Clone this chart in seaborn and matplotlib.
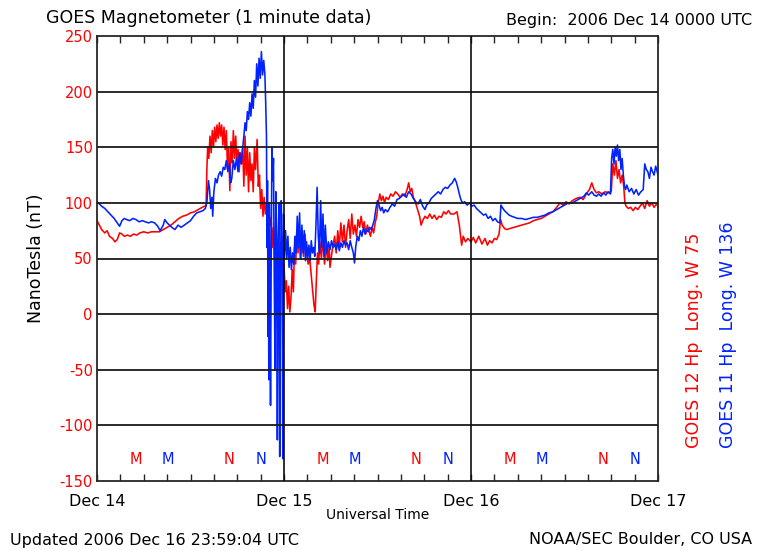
import numpy as np
import pandas as pd
import matplotlib
matplotlib.use("Agg")
import matplotlib.pyplot as plt
import seaborn as sns

# GOES 12 (red) - hours since 2006 Dec 14 00 UT, nT
red_hours = [0.0, 0.3, 0.6, 1.0, 1.3, 1.6, 2.0, 2.3, 2.6, 2.9, 3.2, 3.5, 3.9, 4.3, 4.7, 5.1, 5.5, 6.0,
             6.5, 7.0, 7.5, 8.0, 8.5, 9.0, 9.5, 10.0, 10.5, 11.0, 11.5, 12.0, 12.5, 13.0, 13.5, 13.8,
             14.0, 14.1, 14.2, 14.35, 14.5, 14.65, 14.8, 14.95, 15.1, 15.25, 15.4, 15.55, 15.7, 15.85,
             16.0, 16.15, 16.3, 16.45, 16.6, 16.75, 16.9, 17.05, 17.2, 17.35, 17.5, 17.65, 17.8, 17.95,
             18.1, 18.25, 18.4, 18.55, 18.7, 18.85, 19.0, 19.15, 19.3, 19.45, 19.6, 19.75, 19.9, 20.05,
             20.2, 20.35, 20.55, 20.7, 20.85, 21.0, 21.15, 21.3, 21.45, 21.6, 21.75, 21.9, 22.05, 22.2,
             22.35, 22.5, 22.65, 22.8, 22.95, 23.1, 23.25, 23.4, 23.55, 23.7, 23.85, 24.0, 24.15, 24.3,
             24.45, 24.6, 24.75, 24.9, 25.05, 25.2, 25.35, 25.5, 25.65, 25.8, 25.95, 26.1, 26.3, 26.5,
             26.7, 26.9, 27.1, 27.3, 27.5, 27.7, 27.85, 28.0, 28.15, 28.3, 28.45, 28.6, 28.8, 29.0,
             29.2, 29.4, 29.6, 29.8, 29.9, 30.2, 30.5, 30.7, 30.9, 31.1, 31.3, 31.5, 31.7, 31.9, 32.1,
             32.3, 32.5, 32.7, 32.9, 33.1, 33.3, 33.5, 33.7, 33.9, 34.1, 34.3, 34.5, 34.7, 34.9, 35.1,
             35.3, 35.5, 35.7, 35.9, 36.1, 36.3, 36.5, 36.7, 36.9, 37.1, 37.4, 37.7, 38.0, 38.3, 38.6,
             38.9, 39.2, 39.5, 39.8, 40.0, 40.2, 40.4, 40.6, 40.8, 41.1, 41.4, 41.6, 41.8, 42.1, 42.4,
             42.7, 43.0, 43.3, 43.6, 43.9, 44.2, 44.5, 44.8, 45.1, 45.4, 45.8, 46.2, 46.5, 46.8, 47.0,
             47.3, 47.6, 48.0, 48.3, 48.6, 49.0, 49.4, 49.8, 50.1, 50.4, 50.7, 51.0, 51.3, 51.6, 51.8,
             52.0, 52.3, 52.6, 53.0, 53.5, 54.0, 54.5, 55.0, 55.5, 56.0, 56.5, 57.0, 57.5, 58.0, 58.5,
             59.0, 59.4, 59.8, 60.2, 60.6, 61.0, 61.5, 62.0, 62.4, 62.8, 63.2, 63.5, 63.8, 64.1, 64.4,
             64.8, 65.2, 65.6, 66.0, 66.2, 66.4, 66.6, 66.8, 67.0, 67.2, 67.4, 67.6, 67.75, 67.9, 68.2,
             68.5, 68.8, 69.1, 69.4, 69.7, 70.0, 70.3, 70.6, 70.9, 71.2, 71.5, 71.8, 72.0]
red_nt = [84, 80, 76, 73, 75, 70, 68, 65, 67, 73, 72, 70, 71, 70, 72, 71, 73, 74,
          73, 74, 74, 74, 76, 78, 80, 83, 86, 88, 89, 91, 92, 94, 96, 97,
          97, 130, 150, 140, 160, 145, 165, 150, 168, 155, 170, 158, 172, 160,
          170, 152, 168, 148, 165, 130, 150, 111, 155, 136, 165, 140, 160, 135,
          148, 128, 145, 135, 150, 115, 160, 125, 150, 110, 145, 120, 135, 110,
          150, 130, 157, 115, 125, 95, 112, 88, 105, 90, 100, 78, 95, 80,
          87, 60, 78, 50, 70, 55, 68, 48, 65, 52, 35, 45, 20, 30,
          5, 25, 2, 15, 40, 20, 60, 45, 75, 55, 78, 50, 70, 52,
          72, 55, 45, 50, 35, 20, 8, 2, 30, 55, 45, 65, 50, 68,
          45, 62, 48, 60, 42, 58, 70, 55, 75, 60, 82, 65, 80, 60, 75,
          85, 68, 90, 72, 80, 70, 85, 78, 88, 78, 83, 72, 80, 75, 70,
          78, 73, 82, 88, 100, 108, 102, 106, 100, 105, 103, 108, 106, 110, 108,
          105, 108, 106, 112, 118, 110, 113, 105, 102, 95, 88, 80, 84, 88, 86,
          90, 86, 89, 85, 88, 87, 92, 90, 93, 90, 90, 92, 80, 62, 70,
          65, 68, 65, 69, 64, 70, 63, 68, 62, 66, 64, 68, 67, 72, 85,
          80, 77, 76, 77, 78, 79, 80, 81, 82, 84, 85, 86, 88, 90, 92,
          96, 100, 98, 101, 99, 102, 104, 105, 103, 108, 112, 118, 112, 109, 110,
          108, 110, 109, 110, 135, 125, 138, 122, 130, 118, 125, 115, 100, 97, 95,
          96, 93, 96, 94, 97, 100, 95, 102, 97, 100, 96, 99, 97]

# GOES 11 (blue)
blue_hours = [0.0, 0.3, 0.6, 1.0, 1.4, 1.8, 2.2, 2.6, 2.9, 3.2, 3.5, 3.8, 4.2, 4.6, 5.0, 5.4, 5.8, 6.2,
              6.6, 7.0, 7.4, 7.8, 8.1, 8.5, 8.7, 9.0, 9.3, 9.6, 10.0, 10.4, 10.8, 11.2, 11.6, 12.0,
              12.4, 12.8, 13.2, 13.6, 13.9, 14.1, 14.3, 14.45, 14.6, 14.75, 14.85, 15.0, 15.2, 15.4,
              15.6, 15.8, 16.0, 16.2, 16.4, 16.6, 16.8, 17.0, 17.15, 17.3, 17.5, 17.7, 17.9, 18.1,
              18.3, 18.5, 18.7, 18.85, 19.0, 19.15, 19.3, 19.45, 19.6, 19.75, 19.9, 20.05, 20.2, 20.35,
              20.5, 20.65, 20.8, 20.95, 21.1, 21.25, 21.4, 21.55, 21.65, 21.75, 21.82, 21.88, 21.95,
              22.0, 22.05, 22.12, 22.2, 22.27, 22.35, 22.45, 22.55, 22.65, 22.75, 22.85, 22.95, 23.05,
              23.15, 23.25, 23.35, 23.45, 23.55, 23.65, 23.75, 23.85, 23.95, 24.05, 24.2, 24.35, 24.5,
              24.65, 24.8, 24.95, 25.1, 25.25, 25.4, 25.55, 25.7, 25.85, 26.0, 26.15, 26.3, 26.45,
              26.6, 26.75, 26.9, 27.05, 27.2, 27.35, 27.5, 27.65, 27.8, 27.95, 28.1, 28.25, 28.4,
              28.55, 28.7, 28.85, 29.0, 29.15, 29.3, 29.5, 29.7, 29.9, 30.1, 30.3, 30.5, 30.7, 30.9,
              31.1, 31.3, 31.5, 31.7, 31.9, 32.1, 32.3, 32.5, 32.7, 32.9, 33.05, 33.2, 33.4, 33.6,
              33.8, 34.0, 34.2, 34.4, 34.6, 34.8, 35.0, 35.2, 35.4, 35.6, 35.8, 36.0, 36.2, 36.4,
              36.6, 36.8, 37.0, 37.3, 37.6, 37.9, 38.2, 38.5, 38.8, 39.1, 39.4, 39.7, 40.0, 40.3,
              40.6, 40.9, 41.2, 41.5, 41.8, 42.1, 42.3, 42.6, 42.9, 43.2, 43.5, 43.8, 44.1, 44.4,
              44.7, 45.0, 45.3, 45.6, 45.9, 46.1, 46.3, 46.5, 46.7, 46.9, 47.2, 47.5, 47.8, 48.1,
              48.4, 48.7, 49.0, 49.3, 49.6, 49.9, 50.2, 50.5, 50.8, 51.1, 51.4, 51.7, 51.85, 52.0,
              52.3, 52.6, 52.9, 53.2, 53.6, 54.0, 54.5, 55.0, 55.5, 56.0, 56.5, 57.0, 57.5, 58.0,
              58.5, 59.0, 59.5, 60.0, 60.5, 61.0, 61.5, 62.0, 62.5, 62.8, 63.1, 63.5, 63.8, 64.1,
              64.4, 64.7, 65.0, 65.3, 65.6, 65.9, 66.05, 66.2, 66.35, 66.5, 66.65, 66.8, 66.95, 67.1,
              67.25, 67.4, 67.55, 67.7, 67.85, 68.0, 68.3, 68.6, 68.9, 69.2, 69.5, 69.8, 70.1, 70.3,
              70.5, 70.7, 70.9, 71.1, 71.3, 71.5, 71.7, 71.9, 72.0]
blue_nt = [101, 99, 97, 95, 92, 89, 86, 82, 79, 84, 86, 85, 84, 86, 85, 83, 84, 83,
           82, 83, 82, 79, 75, 80, 85, 82, 80, 78, 76, 80, 78, 80, 82, 84,
           88, 91, 92, 93, 95, 100, 120, 112, 95, 105, 88, 110, 122, 118,
           125, 128, 124, 132, 130, 138, 128, 135, 118, 122, 138, 130, 140, 128,
           145, 135, 150, 160, 172, 165, 182, 175, 190, 178, 198, 185, 210, 195,
           225, 205, 230, 212, 236, 215, 228, 215, 190, 160, 60, 120, -20,
           80, -59, 100, 20, -82, 40, 150, 120, 140, 30, -50, 110, 70,
           -113, 60, 100, -128, 30, 102, 60, -130, 90, 50, 75, 50, 70,
           42, 60, 40, 55, 45, 70, 55, 88, 60, 91, 50, 80, 55,
           75, 48, 65, 50, 62, 48, 66, 55, 60, 52, 80, 114, 70,
           55, 102, 60, 90, 52, 80, 55, 65, 58, 66, 60, 63, 58, 65,
           57, 64, 60, 66, 62, 64, 58, 66, 60, 55, 46, 60, 70, 66,
           75, 70, 78, 72, 76, 74, 78, 76, 80, 85, 95, 102, 98, 93,
           96, 91, 94, 92, 96, 99, 97, 103, 104, 106, 108, 105, 110, 108,
           104, 101, 99, 103, 97, 94, 98, 100, 104, 106, 108, 110, 108, 112,
           114, 113, 116, 118, 122, 119, 114, 108, 103, 100, 101, 98, 100, 97,
           98, 95, 93, 91, 89, 90, 86, 88, 84, 86, 83, 82, 98, 96,
           93, 91, 89, 88, 87, 86, 86, 85, 86, 87, 87, 88, 89, 91,
           92, 94, 96, 98, 100, 100, 102, 104, 106, 109, 107, 110, 107, 106,
           108, 106, 109, 107, 110, 108, 140, 148, 135, 150, 142, 152, 138, 148,
           130, 140, 125, 115, 112, 116, 110, 113, 108, 112, 107, 110, 112, 135,
           130, 128, 122, 132, 128, 125, 133, 128, 125]

day_ticks = [0, 24, 48, 72]
day_labels = ["Dec 14", "Dec 15", "Dec 16", "Dec 17"]
y_ticks = [250, 200, 150, 100, 50, 0, -50, -100, -150]

# local midnight / noon markers (M, N) for each satellite
red_marks = [(5, "M"), (17, "N"), (29, "M"), (41, "N"), (53, "M"), (65, "N")]
blue_marks = [(9.07, "M"), (21.07, "N"), (33.07, "M"), (45.07, "N"), (57.07, "M"), (69.07, "N")]

red = pd.DataFrame({"hours": red_hours, "nT": red_nt})
blue = pd.DataFrame({"hours": blue_hours, "nT": blue_nt})

sns.set_style("white")
plt.rcParams["font.family"] = ["DejaVu Sans"]
plt.rcParams["text.color"] = "black"
plt.rcParams["xtick.color"] = "black"

fig = plt.figure(figsize=(7.62, 5.5), dpi=100)
ax = fig.add_axes([97 / 762, 1 - 481 / 550, 561 / 762, 445 / 550])

sns.lineplot(data=red, x="hours", y="nT", color="#ff0000", lw=1.15, estimator=None, ax=ax, zorder=2)
sns.lineplot(data=blue, x="hours", y="nT", color="#0022ff", lw=1.15, estimator=None, ax=ax, zorder=2)

ax.set_xlim(0, 72)
ax.set_ylim(-150, 250)

# grid lines on top of the data
for v in y_ticks[1:-1]:
    ax.axhline(v, color="0.1", lw=1.3, zorder=4)
for d in day_ticks[1:-1]:
    ax.axvline(d, color="0.05", lw=1.2, zorder=4)

ax.set_xticks(day_ticks)
ax.set_xticklabels(day_labels, fontsize=11.5, color="black")
ax.set_xticks(np.arange(0, 73, 3), minor=True)
ax.tick_params(axis="x", which="both", direction="in", top=True, bottom=True, length=5,
               width=1, color="0.15", pad=9)
ax.set_yticks(y_ticks)
ax.set_yticklabels([str(v) for v in y_ticks], fontsize=10.5, color="#ff0000")
ax.tick_params(axis="y", length=0, pad=3)
ax.set_xlabel("")
ax.set_ylabel("")
for s in ax.spines.values():
    s.set_color("0.15")
    s.set_linewidth(1.3)

for h, t in red_marks:
    ax.text(h, -131, t, color="#ff0000", fontsize=10.5, ha="center", va="center", zorder=5)
for h, t in blue_marks:
    ax.text(h, -131, t, color="#0022ff", fontsize=10.5, ha="center", va="center", zorder=5)

fig.text(46 / 762, 1 - 18 / 550, "GOES Magnetometer (1 minute data)", fontsize=12.5, va="center", color="black")
fig.text(752 / 762, 1 - 21 / 550, "Begin:  2006 Dec 14 0000 UTC", fontsize=11.5, ha="right", va="center", color="black")
fig.text(378 / 762, 1 - 515 / 550, "Universal Time", fontsize=10, ha="center", va="center", color="black")
fig.text(10 / 762, 1 - 540 / 550, "Updated 2006 Dec 16 23:59:04 UTC", fontsize=11.5, va="center", color="black")
fig.text(752 / 762, 1 - 540 / 550, "NOAA/SEC Boulder, CO USA", fontsize=11.5, ha="right", va="center", color="black")
fig.text(36 / 762, 1 - 258 / 550, "NanoTesla (nT)", fontsize=12.5, rotation=90, ha="center", va="center", color="black")
fig.text(694 / 762, 1 - 448 / 550, "GOES 12 Hp  Long. W 75", fontsize=12.5, rotation=90,
         color="#ff0000", ha="center", va="bottom")
fig.text(728 / 762, 1 - 448 / 550, "GOES 11 Hp  Long. W 136", fontsize=12.5, rotation=90,
         color="#0022ff", ha="center", va="bottom")

plt.savefig("out.png", dpi=100)
